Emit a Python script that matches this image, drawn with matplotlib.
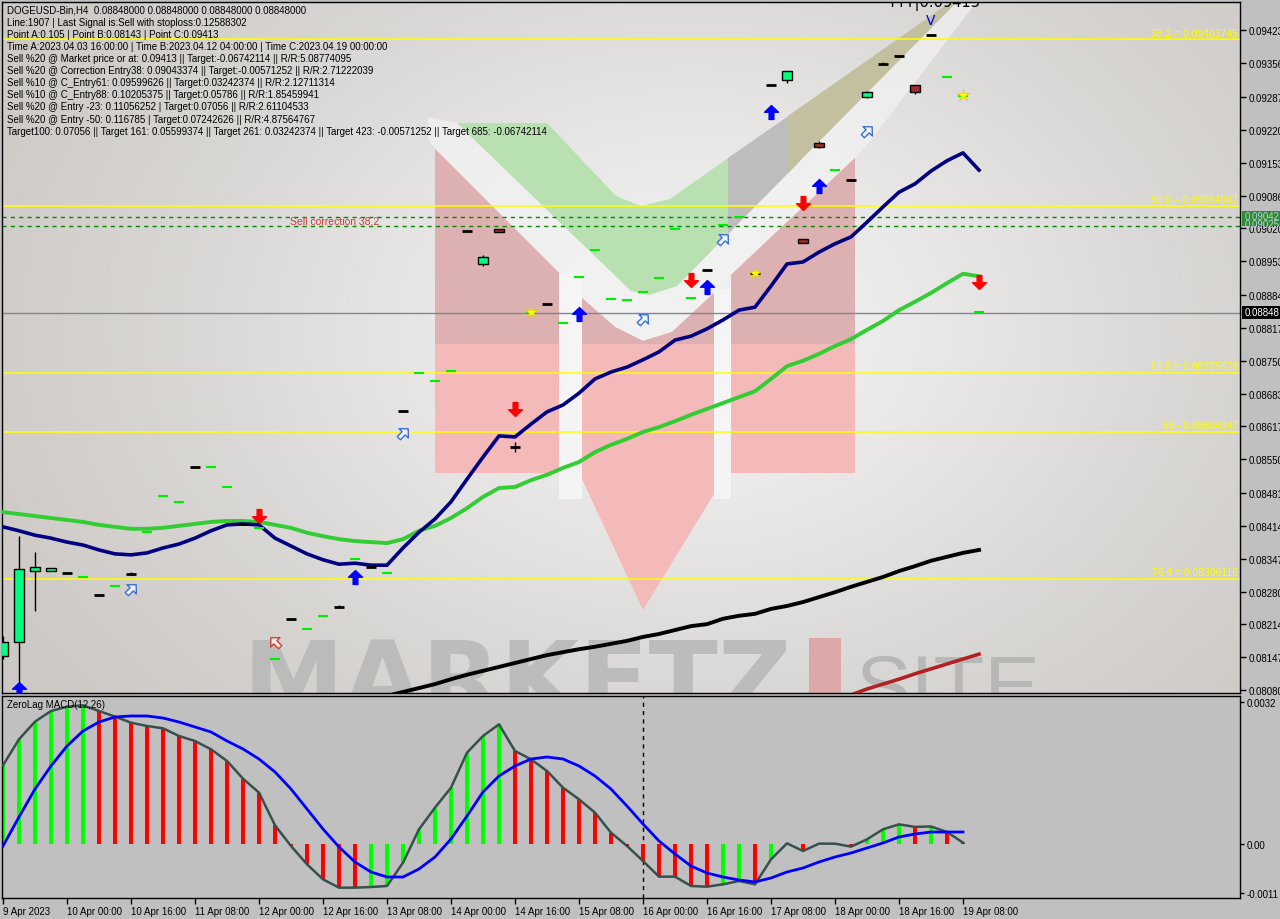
import numpy as np
import matplotlib
matplotlib.use('Agg')
import matplotlib.pyplot as plt
from matplotlib.path import Path
from matplotlib.patches import Polygon, Rectangle
from matplotlib.markers import MarkerStyle
from matplotlib.transforms import Affine2D
from matplotlib import font_manager as fm

# ---------------- data ----------------
n_bars = 62
bars = np.arange(n_bars)

tick_idx = [0, 4, 8, 12, 16, 20, 24, 28, 32, 36, 40, 44, 48, 52, 56, 60]
tick_labels = ["9 Apr 2023", "10 Apr 00:00", "10 Apr 16:00", "11 Apr 08:00", "12 Apr 00:00",
               "12 Apr 16:00", "13 Apr 08:00", "14 Apr 00:00", "14 Apr 16:00", "15 Apr 08:00",
               "16 Apr 00:00", "16 Apr 16:00", "17 Apr 08:00", "18 Apr 00:00", "18 Apr 16:00",
               "19 Apr 08:00"]

price_ticks = [0.09423, 0.09356, 0.09287, 0.09220, 0.09153, 0.09086, 0.09020, 0.08953, 0.08884,
               0.08817, 0.08750, 0.08683, 0.08617, 0.08550, 0.08481, 0.08414, 0.08347, 0.08280,
               0.08214, 0.08147, 0.08080]

candle_idx = [0, 1, 2, 3, 4, 6, 8, 12, 15, 18, 21, 23, 25, 29, 30, 31, 32, 34, 44, 47,
              48, 49, 50, 51, 53, 54, 55, 56, 57, 58]
candle_open = [0.081492, 0.081777, 0.083222, 0.083222, 0.083181, 0.082733, 0.083160, 0.085338,
               0.084178, 0.082245, 0.082489, 0.083303, 0.086477, 0.090140, 0.089469, 0.090181,
               0.085745, 0.088655, 0.089347, 0.089286, 0.093111, 0.093213, 0.089977, 0.091931,
               0.091178, 0.092867, 0.093538, 0.093701, 0.093111, 0.094129]
candle_high = [0.081899, 0.083934, 0.083608, 0.083283, 0.083181, 0.082733, 0.083201, 0.085338,
               0.084178, 0.082245, 0.082530, 0.083303, 0.086477, 0.090140, 0.089652, 0.090181,
               0.085847, 0.088655, 0.089347, 0.089286, 0.093111, 0.093396, 0.089977, 0.091972,
               0.091178, 0.092989, 0.093579, 0.093701, 0.093111, 0.094129]
candle_low = [0.081431, 0.080759, 0.082408, 0.083222, 0.083181, 0.082733, 0.083140, 0.085338,
              0.084178, 0.082245, 0.082489, 0.083303, 0.086477, 0.090140, 0.089428, 0.090120,
              0.085643, 0.088655, 0.089347, 0.089286, 0.093111, 0.093152, 0.089896, 0.091829,
              0.091178, 0.092847, 0.093538, 0.093701, 0.092928, 0.094129]
candle_close = [0.081777, 0.083262, 0.083303, 0.083283, 0.083181, 0.082733, 0.083160, 0.085338,
                0.084178, 0.082245, 0.082489, 0.083303, 0.086477, 0.090140, 0.089611, 0.090120,
                0.085745, 0.088655, 0.089347, 0.089286, 0.093111, 0.093396, 0.089896, 0.091850,
                0.091178, 0.092969, 0.093538, 0.093701, 0.092969, 0.094129]

level_idx = [5, 7, 9, 10, 11, 13, 14, 16, 17, 19, 20, 22, 24, 26, 27, 28, 33, 35, 36, 37, 38,
             39, 40, 41, 42, 43, 45, 46, 52, 59, 60, 61]
level_val = [0.083099, 0.082916, 0.084015, 0.084748, 0.084626, 0.085338, 0.084931, 0.084097,
             0.081431, 0.082041, 0.082306, 0.083466, 0.083181, 0.087251, 0.087088, 0.087291,
             0.088492, 0.088268, 0.089204, 0.089754, 0.088756, 0.088736, 0.088899, 0.089184,
             0.090181, 0.088777, 0.090262, 0.090425, 0.091381, 0.093274, 0.092887, 0.088492]

ma_fast = [0.08412, 0.08404, 0.08395, 0.08389, 0.08381, 0.08375, 0.08365, 0.08357, 0.08355, 0.08359,
           0.08369, 0.08377, 0.08389, 0.08404, 0.08416, 0.08418, 0.08416, 0.08389, 0.08373, 0.08357,
           0.08345, 0.08336, 0.08338, 0.08334, 0.08334, 0.08369, 0.08401, 0.08428, 0.08463, 0.08509,
           0.08554, 0.08597, 0.08595, 0.08621, 0.08646, 0.08660, 0.08684, 0.08713, 0.08727, 0.08737,
           0.08752, 0.08768, 0.08792, 0.08800, 0.08815, 0.08833, 0.08853, 0.08859, 0.08902, 0.08947,
           0.08951, 0.08971, 0.08988, 0.09002, 0.09032, 0.09063, 0.09093, 0.09110, 0.09136, 0.09157,
           0.09173, 0.09138]
ma_mid = [0.08442, 0.08438, 0.08434, 0.08430, 0.08426, 0.08422, 0.08416, 0.08412, 0.08408, 0.08408,
          0.08410, 0.08414, 0.08418, 0.08422, 0.08424, 0.08424, 0.08422, 0.08416, 0.08410, 0.08400,
          0.08393, 0.08387, 0.08383, 0.08381, 0.08379, 0.08387, 0.08404, 0.08414, 0.08430, 0.08450,
          0.08473, 0.08491, 0.08493, 0.08507, 0.08518, 0.08532, 0.08544, 0.08564, 0.08579, 0.08591,
          0.08605, 0.08615, 0.08627, 0.08640, 0.08652, 0.08664, 0.08676, 0.08688, 0.08713, 0.08739,
          0.08750, 0.08764, 0.08780, 0.08794, 0.08813, 0.08831, 0.08853, 0.08870, 0.08888, 0.08908,
          0.08927, 0.08922]
ma_slow_start = 24
ma_slow = [0.08068, 0.08076, 0.08084, 0.08092, 0.08102, 0.08111, 0.08119, 0.08127, 0.08135, 0.08143,
           0.08151, 0.08157, 0.08163, 0.08168, 0.08174, 0.08180, 0.08188, 0.08194, 0.08202, 0.08210,
           0.08214, 0.08225, 0.08231, 0.08235, 0.08245, 0.08251, 0.08259, 0.08269, 0.08279, 0.08290,
           0.08300, 0.08310, 0.08322, 0.08332, 0.08343, 0.08351, 0.08359, 0.08365]
ma_long_start = 53
ma_long = [0.08070, 0.08082, 0.08092, 0.08102, 0.08113, 0.08123, 0.08133, 0.08143, 0.08153]

buy_idx = [1, 22, 36, 44, 48, 51]
buy_val = [0.080820, 0.083099, 0.088451, 0.089001, 0.092562, 0.091056]
sell_idx = [16, 32, 43, 50, 61]
sell_val = [0.084341, 0.086518, 0.089143, 0.090710, 0.089102]
hollow_buy_idx = [8, 25, 40, 45, 54]
hollow_buy_val = [0.082855, 0.086030, 0.088349, 0.089977, 0.092175]
hollow_sell_idx = [17]
hollow_sell_val = [0.081777]
star_idx = [33, 47, 60]
star_val = [0.088492, 0.089286, 0.092908]

fib_levels = [0.09403745, 0.09064687, 0.08725629, 0.08604947, 0.08306116]
fib_labels = ["38.2 = 0.09403745", "50.0 = 0.09064687", "61.8 = 0.08725629",
              "66= 0.08604947", "76.4 = 0.08306116"]
corr_levels = [0.09042, 0.09025]
current_price = 0.08848
point_c = 0.09413
point_c_idx = 58

macd = [0.001773, 0.002359, 0.002757, 0.002997, 0.003095, 0.003125, 0.002997, 0.002870, 0.002734,
        0.002659, 0.002607, 0.002434, 0.002321, 0.002134, 0.001871, 0.001472, 0.001157, 0.000421,
        -0.000045, -0.000458, -0.000796, -0.000984, -0.000984, -0.000970, -0.000946, -0.000421,
        0.000331, 0.000819, 0.001269, 0.002058, 0.002434, 0.002697, 0.002096, 0.001908, 0.001645,
        0.001269, 0.001007, 0.000706, 0.000255, -0.000045, -0.000383, -0.000736, -0.000736,
        -0.000946, -0.000962, -0.000909, -0.000834, -0.000909, -0.000346, 0.000015, -0.000158,
        0.000008, 0.000008, -0.000060, 0.000105, 0.000331, 0.000443, 0.000385, 0.000395, 0.000270,
        0.000030]
signal = [-0.000045, 0.000608, 0.001239, 0.001758, 0.002208, 0.002546, 0.002749, 0.002862, 0.002885,
          0.002885, 0.002839, 0.002749, 0.002637, 0.002524, 0.002321, 0.002141, 0.001915, 0.001623,
          0.001239, 0.000789, 0.000338, -0.000068, -0.000406, -0.000631, -0.000744, -0.000744,
          -0.000563, -0.000293, 0.000113, 0.000631, 0.001172, 0.001532, 0.001758, 0.001915, 0.001961,
          0.001915, 0.001758, 0.001532, 0.001239, 0.000856, 0.000451, 0.000068, -0.000225, -0.000496,
          -0.000654, -0.000744, -0.000811, -0.000856, -0.000766, -0.000631, -0.000541, -0.000406,
          -0.000293, -0.000203, -0.000090, 0.000023, 0.000158, 0.000225, 0.000270, 0.000270, 0.000270]
macd_ticks = [0.0032, 0.0, -0.0011]
macd_tick_labels = ["0.0032", "0.00", "-0.0011"]

info_lines = [
    "DOGEUSD-Bin,H4  0.08848000 0.08848000 0.08848000 0.08848000",
    "Line:1907 | Last Signal is:Sell with stoploss:0.12588302",
    "Point A:0.105 | Point B:0.08143 | Point C:0.09413",
    "Time A:2023.04.03 16:00:00 | Time B:2023.04.12 04:00:00 | Time C:2023.04.19 00:00:00",
    "Sell %20 @ Market price or at: 0.09413 || Target:-0.06742114 || R/R:5.08774095",
    "Sell %20 @ Correction Entry38: 0.09043374 || Target:-0.00571252 || R/R:2.71222039",
    "Sell %10 @ C_Entry61: 0.09599626 || Target:0.03242374 || R/R:2.12711314",
    "Sell %10 @ C_Entry88: 0.10205375 || Target:0.05786 || R/R:1.85459941",
    "Sell %20 @ Entry -23: 0.11056252 | Target:0.07056 || R/R:2.61104533",
    "Sell %20 @ Entry -50: 0.116785 | Target:0.07242626 || R/R:4.87564767",
    "Target100: 0.07056 || Target 161: 0.05599374 || Target 261: 0.03242374 || Target 423: -0.00571252 || Target 685: -0.06742114",
]

# ---------------- fonts ----------------
names = {f.name for f in fm.fontManager.ttflist}
NARROW = 'Liberation Sans Narrow' if 'Liberation Sans Narrow' in names else 'Liberation Sans'
plt.rcParams['font.family'] = [NARROW, 'DejaVu Sans']
FS = 7 if NARROW == 'Liberation Sans' else 8

# ---------------- layout ----------------
W, H = 1280, 920
BG = '#c0c0c0'
fig = plt.figure(figsize=(W / 100, H / 100), dpi=100, facecolor=BG)


def fx(px):
    return px / W


def fy(px):
    return 1 - px / H


L, R, T, B = 2, 1240, 3, 694
MT, MB = 697, 899
main_rect = [fx(L), fy(B), fx(R) - fx(L), fy(T) - fy(B)]

# decoration axes in pixel coordinates
axd = fig.add_axes(main_rect, zorder=0)
axd.set_xlim(L, R)
axd.set_ylim(B, T)
axd.axis('off')

gx = np.linspace(L, R, 320)
gy = np.linspace(T, B, 180)
GX, GY = np.meshgrid(gx, gy)
r2 = ((GX - 690) / 700) ** 2 + ((GY - 330) / 520) ** 2
f = np.exp(-1.6 * r2)
edge = np.array([200, 196, 192]) / 255
center = np.array([240, 240, 240]) / 255
img = edge + (center - edge) * f[..., None]
axd.imshow(img, extent=(L, R, B, T), aspect='auto', interpolation='bilinear', zorder=0)

# logo (decoration)
white_band = [(428, 118), (457, 124), (631, 292), (649, 297), (677, 288), (952, 5), (975, 5),
              (870, 142), (855, 159), (731, 276), (714, 294), (672, 333), (643, 342), (615, 328),
              (582, 299), (559, 274), (435, 150), (428, 140)]
axd.add_patch(Polygon(white_band, closed=True, facecolor='#f3f3f3', edgecolor='none', alpha=0.7, zorder=1))
green_poly = [(457, 124), (547, 124), (616, 197), (641, 207), (670, 200), (734, 155), (734, 229),
              (677, 287), (649, 296), (631, 292)]
axd.add_patch(Polygon(green_poly, closed=True, facecolor='#b9e0b1', edgecolor='none', zorder=2))
axd.add_patch(Polygon([(728, 159), (800, 109), (800, 162), (728, 235)], closed=True,
                      facecolor='#bdbdbd', edgecolor='none', zorder=2))
axd.add_patch(Polygon([(788, 117), (949, 4), (956, 4), (788, 174)], closed=True,
                      facecolor='#c3c0a0', edgecolor='none', zorder=2))
# gaps of the M
axd.add_patch(Rectangle((559, 274), 23, 226, facecolor='#f6f6f6', edgecolor='none', alpha=0.9, zorder=2))
axd.add_patch(Rectangle((714, 290), 17, 210, facecolor='#f6f6f6', edgecolor='none', alpha=0.9, zorder=2))
pinks = [
    [(435, 150), (559, 274), (559, 474), (435, 474)],
    [(582, 299), (615, 328), (643, 342), (672, 333), (714, 294), (714, 495), (643, 611), (582, 480)],
    [(731, 276), (855, 159), (855, 474), (731, 474)],
]
for poly in pinks:
    p = Polygon(poly, closed=True, facecolor='#f4b9b9', edgecolor='none', zorder=3)
    axd.add_patch(p)
    dark = Rectangle((400, 100), 500, 245, facecolor='#ddb1b1', edgecolor='none', zorder=3.5)
    axd.add_patch(dark)
    dark.set_clip_path(p)

# watermark
wm = axd.text(243, 714, "MARKETZ", fontsize=70, fontweight='bold', family='DejaVu Sans',
              color='#b9b9b9', alpha=0.9, ha='left', va='baseline', zorder=4, clip_on=True)
wm2 = axd.text(855, 714, "SITE", fontsize=70, family=[NARROW, 'DejaVu Sans'],
               color='#b4b4b4', alpha=0.9, ha='left', va='baseline', zorder=4, clip_on=True)
axd.add_patch(Rectangle((809, 639), 32, 60, facecolor='#dca8a8', edgecolor='none', zorder=4))
fig.canvas.draw()
for t, target in ((wm, 549), (wm2, 185)):
    bb = t.get_window_extent()
    t.set_fontsize(t.get_fontsize() * target / bb.width)

# ---------------- main price axes ----------------
ax = fig.add_axes(main_rect, zorder=1)
ax.patch.set_alpha(0)
x0 = (L - 3) / 16
x1 = (R - 3) / 16
ax.set_xlim(x0, x1)
ax.set_ylim(0.080739, 0.094800)

for lv in fib_levels:
    ax.axhline(lv, color='#ffff00', lw=1.1, zorder=2)
for lv, lab in zip(fib_levels, fib_labels):
    ax.text(x1 - 2 / 16, lv + 0.00004, lab, color='#ffff00', fontsize=FS + 0.5, ha='right', va='bottom', zorder=6)
for lv in corr_levels:
    ax.axhline(lv, color='#008a00', lw=1, ls=(0, (3, 3)), zorder=2)
ax.text((290 - 3) / 16, np.mean(corr_levels), "Sell correction 38.2", color='#cc3a3a',
        fontsize=FS + 0.5, ha='left', va='center', zorder=6)
ax.axhline(current_price, color='#7f8790', lw=1, zorder=2)

ax.plot(np.arange(ma_long_start, ma_long_start + len(ma_long)), ma_long, color='#b22222', lw=2.6, zorder=3)
ax.plot(np.arange(ma_slow_start, ma_slow_start + len(ma_slow)), ma_slow, color='black', lw=2.8, zorder=3)
ax.plot(bars, ma_mid, color='#32cd32', lw=2.8, zorder=3)
ax.plot(bars, ma_fast, color='#000080', lw=2.6, zorder=3)

# candles
bw = 0.625
for i, o, h, l, c in zip(candle_idx, candle_open, candle_high, candle_low, candle_close):
    if h > l:
        ax.vlines(i, l, h, color='black', lw=1, zorder=4)
    if abs(o - c) < 1e-6:
        ax.hlines(o, i - 0.34, i + 0.34, color='black', lw=2, zorder=5)
    else:
        col = '#00ff80' if c > o else '#a52a2a'
        ax.add_patch(Rectangle((i - bw / 2, min(o, c)), bw, abs(c - o), facecolor=col,
                               edgecolor='black', lw=1, zorder=5))
ax.hlines(level_val, np.array(level_idx) - 0.34, np.array(level_idx) + 0.34, color='#00ee00', lw=1.5, zorder=5)

# arrows
up_path = Path([(0, 0.5), (0.5, 0.02), (0.17, 0.02), (0.17, -0.5), (-0.17, -0.5), (-0.17, 0.02),
                (-0.5, 0.02), (0, 0.5)],
               [Path.MOVETO] + [Path.LINETO] * 6 + [Path.CLOSEPOLY])
down_path = up_path.transformed(Affine2D().scale(1, -1))
ur_path = up_path.transformed(Affine2D().rotate_deg(-45))
ul_path = up_path.transformed(Affine2D().rotate_deg(45))
ax.plot(buy_idx, buy_val, ls='none', marker=MarkerStyle(up_path), ms=10, color='#0000ff', zorder=6)
ax.plot(sell_idx, sell_val, ls='none', marker=MarkerStyle(down_path), ms=10, color='#ff0000', zorder=6)
ax.plot(hollow_buy_idx, hollow_buy_val, ls='none', marker=MarkerStyle(ur_path), ms=9,
        mfc='#eef2fb', mec='#3d6fd6', mew=1, zorder=6)
ax.plot(hollow_sell_idx, hollow_sell_val, ls='none', marker=MarkerStyle(ul_path), ms=9,
        mfc='#f6eeee', mec='#d04030', mew=1, zorder=6)
ax.plot(star_idx, star_val, ls='none', marker='*', ms=9, mfc='#ffff00', mec='#e0d000', mew=0.5, zorder=6)

ax.text(point_c_idx, 0.094440, "V", color='#0000ff', fontsize=10, family='DejaVu Sans',
        ha='center', va='center', zorder=6)
ax.text((888 - 3) / 16, 0.094790, "TTT|0.09413", color='black', fontsize=10.5, family='DejaVu Sans',
        ha='left', va='center', zorder=6, clip_on=True)

ax.yaxis.tick_right()
ax.set_yticks(price_ticks)
ax.set_yticklabels([f"{v:.5f}" for v in price_ticks])
ax.tick_params(axis='y', direction='out', length=4, width=1, labelsize=FS, pad=2, colors='black')
ax.set_xticks([])
for s in ax.spines.values():
    s.set_color('black')
    s.set_linewidth(1)

# right-axis price boxes
fig.add_artist(Rectangle((fx(1242), fy(227)), fx(38), 15 / H, transform=fig.transFigure,
                         facecolor='#2e8b2e', edgecolor='none', zorder=8))
fig.text(fx(1245), fy(217), "0.09042", color='#b8cce8', fontsize=FS, va='center', ha='left', zorder=9)
fig.text(fx(1245), fy(225), "0.09025", color='#b8cce8', fontsize=FS, va='center', ha='left', zorder=9)
fig.add_artist(Rectangle((fx(1242), fy(320)), fx(38), 13 / H, transform=fig.transFigure,
                         facecolor='black', edgecolor='none', zorder=8))
fig.text(fx(1245), fy(313.5), "0.08848", color='white', fontsize=FS, va='center', ha='left', zorder=9)

# info text
for k, line in enumerate(info_lines):
    fig.text(fx(7), fy(10.7 + 12.1 * k), line, fontsize=FS, color='black', ha='left', va='center', zorder=10)

# ---------------- MACD axes ----------------
ax2 = fig.add_axes([fx(L), fy(MB), fx(R) - fx(L), fy(MT) - fy(MB)], facecolor=BG, zorder=1)
ax2.set_xlim(x0, x1)
ax2.set_ylim(-0.001217, 0.003335)
macd_arr = np.array(macd)
idx_m = np.arange(len(macd_arr))
cols = ['#00ff00'] + ['#00ff00' if macd_arr[i] > macd_arr[i - 1] else '#ff0000' for i in range(1, len(macd_arr))]
ax2.bar(idx_m, macd_arr, width=0.19, color=cols, zorder=2)
ax2.plot(idx_m, macd_arr, color='#36504e', lw=1.8, zorder=3)
ax2.plot(np.arange(len(signal)), signal, color='#0000ff', lw=2, zorder=4)
ax2.axvline(40, color='black', lw=1, ls=(0, (3, 3)), zorder=1)
ax2.yaxis.tick_right()
ax2.set_yticks(macd_ticks)
ax2.set_yticklabels(macd_tick_labels)
ax2.tick_params(axis='y', direction='out', length=3, width=1, labelsize=FS, pad=2)
ax2.set_xticks(tick_idx)
ax2.set_xticklabels(tick_labels, ha='left')
ax2.tick_params(axis='x', direction='out', length=4, width=1, labelsize=FS, pad=2)
for s in ax2.spines.values():
    s.set_color('black')
    s.set_linewidth(1)
fig.text(fx(7), fy(705), "ZeroLag MACD(12,26)", fontsize=FS, color='black', ha='left', va='center', zorder=10)

fig.savefig('out.png', dpi=100, facecolor=BG)
